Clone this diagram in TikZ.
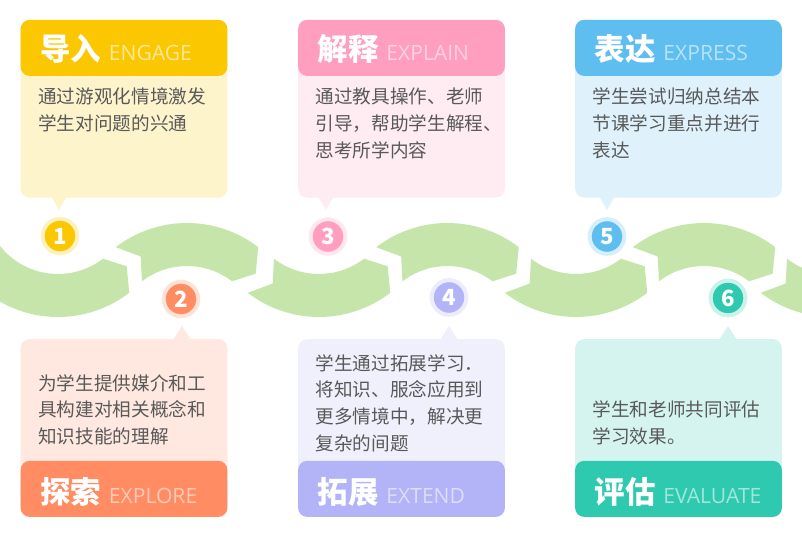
\documentclass[tikz,border=0pt]{standalone}
\usepackage{fontspec}
\setmainfont{Noto Sans CJK SC}
\newfontfamily\enfont{Open Sans}
\usetikzlibrary{positioning}
\definecolor{engage}{HTML}{FBC700}
\definecolor{explore}{HTML}{FF8C62}
\definecolor{explain}{HTML}{FF9EBF}
\definecolor{extend}{HTML}{B3B3F7}
\definecolor{express}{HTML}{5EBEEF}
\definecolor{evaluate}{HTML}{2EC9AF}
\definecolor{wave}{HTML}{C6E5AB}
\definecolor{textgray}{HTML}{595959}

\begin{document}
\begin{tikzpicture}[
    x=0.03cm, y=-0.03cm,
    card/.style={rounded corners=0.27cm, minimum width=6.2cm, minimum height=5.33cm, inner sep=0pt},
    bar/.style={rounded corners=0.27cm, minimum width=6.2cm, minimum height=1.68cm, inner sep=0pt},
    title/.style={font=\fontsize{26pt}{26pt}\selectfont\bfseries, text=white, inner sep=0pt, anchor=base west},
    sub/.style={font=\enfont\fontsize{18pt}{18pt}\selectfont, inner sep=0pt},
    desc/.style={font=\fontsize{15.9pt}{22.8pt}\selectfont, text=textgray, align=left, inner sep=0pt, anchor=base west},
    num/.style={circle, minimum size=1.04cm, line width=0.12cm, inner sep=0pt, text=white, font=\fontsize{19pt}{19pt}\selectfont\bfseries},
    band/.style={fill=wave}
  ]
    \clip (0,0) rectangle (802,537);
    \fill[white] (0,0) rectangle (802,537);

    % wave band: troughs and crests
    \fill[band, shift={(58,200)}] (150:117) arc[start angle=150, end angle=52.5, radius=117] -- (44:95.5) -- (52.5:74) arc[start angle=52.5, end angle=150, radius=74] -- cycle;
    \fill[band, shift={(187,340)}] (232.5:117) arc[start angle=232.5, end angle=307.5, radius=117] -- (316:95.5) -- (307.5:74) arc[start angle=307.5, end angle=232.5, radius=74] -- (241:95.5) -- cycle;
    \fill[band, shift={(319,200)}] (127.5:117) arc[start angle=127.5, end angle=52.5, radius=117] -- (44:95.5) -- (52.5:74) arc[start angle=52.5, end angle=127.5, radius=74] -- (119:95.5) -- cycle;
    \fill[band, shift={(447.5,340)}] (232.5:117) arc[start angle=232.5, end angle=307.5, radius=117] -- (316:95.5) -- (307.5:74) arc[start angle=307.5, end angle=232.5, radius=74] -- (241:95.5) -- cycle;
    \fill[band, shift={(576,200)}] (127.5:117) arc[start angle=127.5, end angle=52.5, radius=117] -- (44:95.5) -- (52.5:74) arc[start angle=52.5, end angle=127.5, radius=74] -- (119:95.5) -- cycle;
    \fill[band, shift={(704,340)}] (232.5:117) arc[start angle=232.5, end angle=307.5, radius=117] -- (316:95.5) -- (307.5:74) arc[start angle=307.5, end angle=232.5, radius=74] -- (241:95.5) -- cycle;
    \fill[band, shift={(832,200)}] (127.5:117) arc[start angle=127.5, end angle=52.5, radius=117] -- (44:95.5) -- (52.5:74) arc[start angle=52.5, end angle=127.5, radius=74] -- (119:95.5) -- cycle;

    % step numbers
    \node[num, fill=engage, draw=engage!25!white] (n1) at (60,236) {1};
    \node[num, fill=explore, draw=explore!25!white] (n2) at (181,299) {2};
    \node[num, fill=explain, draw=explain!25!white] (n3) at (328,236.5) {3};
    \node[num, fill=extend, draw=extend!25!white] (n4) at (449,297.5) {4};
    \node[num, fill=express, draw=express!25!white] (n5) at (607,236.5) {5};
    \node[num, fill=evaluate, draw=evaluate!25!white] (n6) at (728,298) {6};

    % top cards
    \node[card, fill=engage!20!white] (c1) at (124,108.75) {};
    \node[bar, fill=engage, anchor=north] (h1) at (c1.north) {};
    \fill[engage!20!white] (51,196) -- (59,210) -- (67,196) -- cycle;
    \node[title] (t1) at (40,60.5) {导入};
    \node[sub, text=engage!40!white, base right=0.22cm of t1] (s1) {ENGAGE};
    \node[desc] (d1) at (38,130.4) {通过游观化情境激发\\学生对问题的兴通};

    \node[card, fill=explain!20!white] (c3) at (401.5,108.75) {};
    \node[bar, fill=explain, anchor=north] (h3) at (c3.north) {};
    \fill[explain!20!white] (318,196) -- (326,210) -- (334,196) -- cycle;
    \node[title] (t3) at (317.5,60.5) {解释};
    \node[sub, text=explain!45!white, base right=0.22cm of t3] (s3) {EXPLAIN};
    \node[desc] (d3) at (315.5,157.1) {通过教具操作、老师\\引导，帮助学生解程、\\思考所学内容};

    \node[card, fill=express!20!white] (c5) at (678.5,108.75) {};
    \node[bar, fill=express, anchor=north] (h5) at (c5.north) {};
    \fill[express!20!white] (599,196) -- (607,210) -- (615,196) -- cycle;
    \node[title] (t5) at (594.5,60.5) {表达};
    \node[sub, text=express!45!white, base right=0.22cm of t5] (s5) {EXPRESS};
    \node[desc] (d5) at (592.5,157.1) {学生尝试归纳总结本\\节课学习重点并进行\\表达};

    % bottom cards
    \node[card, fill=explore!20!white] (c2) at (124,428) {};
    \node[bar, fill=explore, anchor=south] (f2) at (c2.south) {};
    \fill[explore!20!white] (173,340) -- (182,326) -- (191,340) -- cycle;
    \node[title] (t2) at (40,503) {探索};
    \node[sub, text=explore!45!white, base right=0.22cm of t2] (s2) {EXPLORE};
    \node[desc] (d2) at (38,443.7) {为学生提供媒介和工\\具构建对相关概念和\\知识技能的理解};

    \node[card, fill=extend!20!white] (c4) at (401.5,428) {};
    \node[bar, fill=extend, anchor=south] (f4) at (c4.south) {};
    \fill[extend!20!white] (440,340) -- (449,326) -- (458,340) -- cycle;
    \node[title] (t4) at (317.5,503) {拓展};
    \node[sub, text=extend!45!white, base right=0.22cm of t4] (s4) {EXTEND};
    \node[desc] (d4) at (315.5,450.4) {学生通过拓展学习．\\将知识、服念应用到\\更多情境中，解决更\\复杂的间题};

    \node[card, fill=evaluate!20!white] (c6) at (678.5,428) {};
    \node[bar, fill=evaluate, anchor=south] (f6) at (c6.south) {};
    \fill[evaluate!20!white] (719,340) -- (728,326) -- (737,340) -- cycle;
    \node[title] (t6) at (594.5,503) {评估};
    \node[sub, text=evaluate!45!white, base right=0.22cm of t6] (s6) {EVALUATE};
    \node[desc] (d6) at (592.5,443.7) {学生和老师共同评估\\学习效果。};
  \end{tikzpicture}
\end{document}
